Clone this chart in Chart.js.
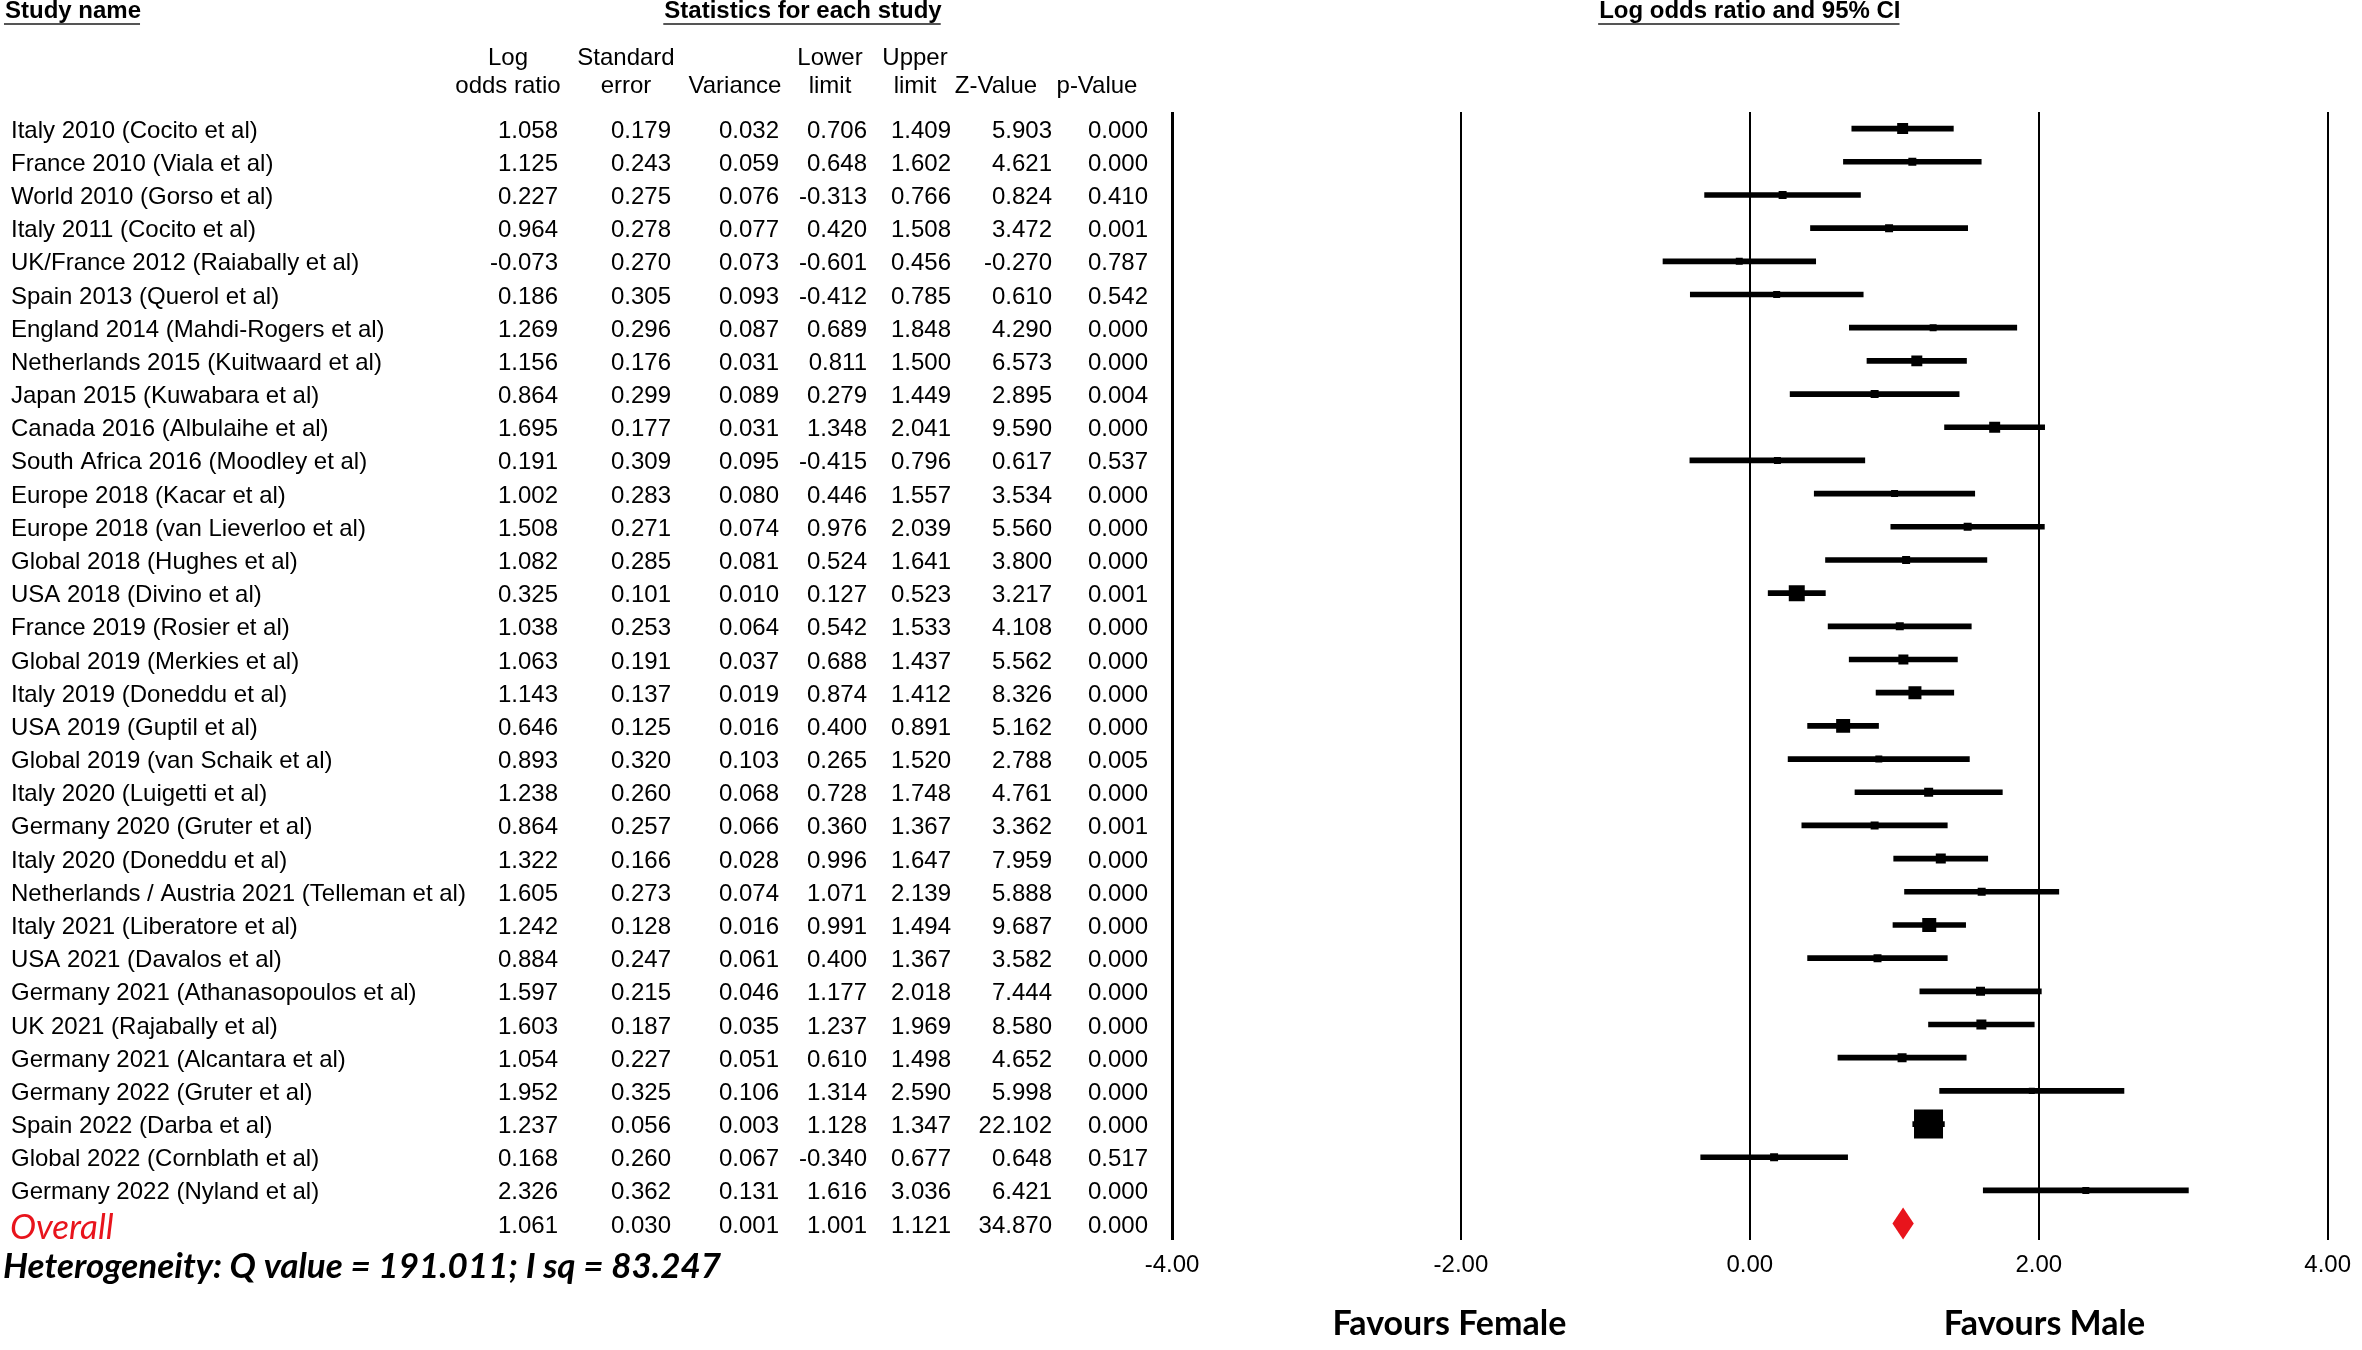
<!DOCTYPE html>
<html>
<head>
<meta charset="utf-8">
<title>Forest plot</title>
<script src="https://cdn.jsdelivr.net/npm/chart.js@4.4.1/dist/chart.umd.min.js"></script>
<style>
    html, body { margin: 0; padding: 0; background: #fff; }
    #wrap { width: 2362px; height: 1350px; }
</style>
</head>
<body>
<div id="wrap"><canvas id="forestChart" width="2362" height="1350"></canvas></div>
<script>
// Study data
const studyNames = [
    'Italy 2010 (Cocito et al)', 'France 2010 (Viala et al)', 'World 2010 (Gorso et al)',
    'Italy 2011 (Cocito et al)', 'UK/France 2012 (Raiabally et al)', 'Spain 2013 (Querol et al)',
    'England 2014 (Mahdi-Rogers et al)', 'Netherlands 2015 (Kuitwaard et al)', 'Japan 2015 (Kuwabara et al)',
    'Canada 2016 (Albulaihe et al)', 'South Africa 2016 (Moodley et al)', 'Europe 2018 (Kacar et al)',
    'Europe 2018 (van Lieverloo et al)', 'Global 2018 (Hughes et al)', 'USA 2018 (Divino et al)',
    'France 2019 (Rosier et al)', 'Global 2019 (Merkies et al)', 'Italy 2019 (Doneddu et al)',
    'USA 2019 (Guptil et al)', 'Global 2019 (van Schaik et al)', 'Italy 2020 (Luigetti et al)',
    'Germany 2020 (Gruter et al)', 'Italy 2020 (Doneddu et al)', 'Netherlands / Austria 2021 (Telleman et al)',
    'Italy 2021 (Liberatore et al)', 'USA 2021 (Davalos et al)', 'Germany 2021 (Athanasopoulos et al)',
    'UK 2021 (Rajabally et al)', 'Germany 2021 (Alcantara et al)', 'Germany 2022 (Gruter et al)',
    'Spain 2022 (Darba et al)', 'Global 2022 (Cornblath et al)', 'Germany 2022 (Nyland et al)'
];
const logOddsRatio = [1.058, 1.125, 0.227, 0.964, -0.073, 0.186, 1.269, 1.156, 0.864, 1.695, 0.191,
    1.002, 1.508, 1.082, 0.325, 1.038, 1.063, 1.143, 0.646, 0.893, 1.238, 0.864, 1.322, 1.605,
    1.242, 0.884, 1.597, 1.603, 1.054, 1.952, 1.237, 0.168, 2.326];
const standardError = [0.179, 0.243, 0.275, 0.278, 0.270, 0.305, 0.296, 0.176, 0.299, 0.177, 0.309,
    0.283, 0.271, 0.285, 0.101, 0.253, 0.191, 0.137, 0.125, 0.320, 0.260, 0.257, 0.166, 0.273,
    0.128, 0.247, 0.215, 0.187, 0.227, 0.325, 0.056, 0.260, 0.362];
const variance = [0.032, 0.059, 0.076, 0.077, 0.073, 0.093, 0.087, 0.031, 0.089, 0.031, 0.095,
    0.080, 0.074, 0.081, 0.010, 0.064, 0.037, 0.019, 0.016, 0.103, 0.068, 0.066, 0.028, 0.074,
    0.016, 0.061, 0.046, 0.035, 0.051, 0.106, 0.003, 0.067, 0.131];
const lowerLimit = [0.706, 0.648, -0.313, 0.420, -0.601, -0.412, 0.689, 0.811, 0.279, 1.348, -0.415,
    0.446, 0.976, 0.524, 0.127, 0.542, 0.688, 0.874, 0.400, 0.265, 0.728, 0.360, 0.996, 1.071,
    0.991, 0.400, 1.177, 1.237, 0.610, 1.314, 1.128, -0.340, 1.616];
const upperLimit = [1.409, 1.602, 0.766, 1.508, 0.456, 0.785, 1.848, 1.500, 1.449, 2.041, 0.796,
    1.557, 2.039, 1.641, 0.523, 1.533, 1.437, 1.412, 0.891, 1.520, 1.748, 1.367, 1.647, 2.139,
    1.494, 1.367, 2.018, 1.969, 1.498, 2.590, 1.347, 0.677, 3.036];
const zValue = [5.903, 4.621, 0.824, 3.472, -0.270, 0.610, 4.290, 6.573, 2.895, 9.590, 0.617,
    3.534, 5.560, 3.800, 3.217, 4.108, 5.562, 8.326, 5.162, 2.788, 4.761, 3.362, 7.959, 5.888,
    9.687, 3.582, 7.444, 8.580, 4.652, 5.998, 22.102, 0.648, 6.421];
const pValue = [0.000, 0.000, 0.410, 0.001, 0.787, 0.542, 0.000, 0.000, 0.004, 0.000, 0.537,
    0.000, 0.000, 0.000, 0.001, 0.000, 0.000, 0.000, 0.000, 0.005, 0.000, 0.001, 0.000, 0.000,
    0.000, 0.000, 0.000, 0.000, 0.000, 0.000, 0.000, 0.517, 0.000];
// relative weight (%) as judged from the box areas
const studyWeight = [3.3, 1.75, 1.75, 1.75, 1.34, 1.34, 1.34, 3.3, 1.75, 3.3, 1.34,
    1.34, 1.75, 1.75, 7.0, 1.75, 2.74, 4.63, 5.37, 1.34, 2.22, 1.75, 2.74, 1.75,
    5.37, 1.75, 2.22, 2.74, 2.22, 0.99, 23.06, 1.75, 1.34];

// Overall (summary) row
const overallLabel = 'Overall';
const overallStats = [1.061, 0.030, 0.001, 1.001, 1.121, 34.870, 0.000];
const heterogeneityText = 'Heterogeneity: Q value = 191.011; I sq = 83.247';

const axisTicks = [-4, -2, 0, 2, 4];
const columnHeaders = [
    ['Log', 'odds ratio'], ['Standard', 'error'], ['', 'Variance'], ['Lower', 'limit'],
    ['Upper', 'limit'], ['', 'Z-Value'], ['', 'p-Value']
];
const sideLabels = ['Favours Female', 'Favours Male'];

const ARIAL = "'Liberation Sans', Arial, sans-serif";
const CALIBRI = "Lato, 'Open Sans', sans-serif";
const RED = '#e8141c';

const colRight = [558, 671, 779, 867, 951, 1052, 1148];
const colHeadCenter = [508, 626, 735, 830, 915, 996, 1097];

function underlinedTitle(ctx, text, cx, baseline) {
    ctx.font = 'bold 24px ' + ARIAL;
    ctx.textAlign = 'center';
    ctx.fillStyle = '#000';
    ctx.fillText(text, cx, baseline);
    const w = ctx.measureText(text).width;
    ctx.fillStyle = '#555';
    ctx.fillRect(cx - w / 2 - 1, baseline + 5, w, 2);
}

const tablePlugin = {
    id: 'tableText',
    afterDraw(chart) {
        const ctx = chart.ctx;
        const y = chart.scales.y;
        const x = chart.scales.x;
        ctx.save();
        ctx.textBaseline = 'alphabetic';

        underlinedTitle(ctx, 'Study name', 73, 18);
        underlinedTitle(ctx, 'Statistics for each study', 803, 18);
        underlinedTitle(ctx, 'Log odds ratio and 95% CI', x.getPixelForValue(0), 18);

        ctx.font = '24px ' + ARIAL;
        ctx.fillStyle = '#000';
        ctx.textAlign = 'center';
        columnHeaders.forEach((h, c) => {
            ctx.fillText(h[0], colHeadCenter[c], 65);
            ctx.fillText(h[1], colHeadCenter[c], 93);
        });

        const columns = [logOddsRatio, standardError, variance, lowerLimit, upperLimit, zValue, pValue];
        studyNames.forEach((name, i) => {
            const base = y.getPixelForValue(i) + 9;
            ctx.textAlign = 'left';
            ctx.fillText(name, 11, base);
            ctx.textAlign = 'right';
            columns.forEach((col, c) => ctx.fillText(col[i].toFixed(3), colRight[c], base));
        });

        const oBase = y.getPixelForValue(studyNames.length) + 9;
        overallStats.forEach((v, c) => ctx.fillText(v.toFixed(3), colRight[c], oBase));

        ctx.textAlign = 'left';
        ctx.fillStyle = RED;
        ctx.font = 'italic 35px ' + CALIBRI;
        ctx.fillText(overallLabel, 10, oBase + 6);

        ctx.fillStyle = '#000';
        ctx.font = 'italic bold 35px ' + CALIBRI;
        ctx.fillText(heterogeneityText, 3, 1278);

        ctx.font = 'bold 34px ' + CALIBRI;
        ctx.textAlign = 'center';
        ctx.fillText(sideLabels[0], x.getPixelForValue(-2.08), 1335);
        ctx.fillText(sideLabels[1], x.getPixelForValue(2.04), 1335);
        ctx.restore();
    }
};

const diamondPlugin = {
    id: 'summaryDiamond',
    afterDatasetsDraw(chart) {
        const ctx = chart.ctx;
        const x = chart.scales.x;
        const yc = chart.scales.y.getPixelForValue(studyNames.length);
        const xl = x.getPixelForValue(overallStats[3]);
        const xm = x.getPixelForValue(overallStats[0]);
        const xr = x.getPixelForValue(overallStats[4]);
        ctx.save();
        ctx.fillStyle = RED;
        ctx.beginPath();
        ctx.moveTo(xl - 2, yc);
        ctx.lineTo(xm, yc - 16);
        ctx.lineTo(xr + 2, yc);
        ctx.lineTo(xm, yc + 16);
        ctx.closePath();
        ctx.fill();
        ctx.restore();
    }
};

const ciData = studyNames.map((n, i) => ({ y: i, x: [lowerLimit[i], upperLimit[i]] }));
const pointData = studyNames.map((n, i) => ({ x: logOddsRatio[i], y: i }));

new Chart(document.getElementById('forestChart'), {
    type: 'scatter',
    data: {
        datasets: [
            {
                type: 'bar',
                indexAxis: 'y',
                data: ciData,
                backgroundColor: '#000',
                borderWidth: 0,
                barThickness: 5,
                order: 2
            },
            {
                type: 'scatter',
                data: pointData,
                pointStyle: 'rect',
                // box area proportional to weight
                pointRadius: c => 6.04 * Math.sqrt(studyWeight[c.dataIndex]) / Math.SQRT2,
                backgroundColor: '#000',
                borderWidth: 0,
                order: 1
            }
        ]
    },
    options: {
        responsive: false,
        animation: false,
        devicePixelRatio: 1,
        layout: { padding: { left: 1172, right: 29, top: 112, bottom: 59 } },
        plugins: { legend: { display: false }, tooltip: { enabled: false } },
        scales: {
            x: {
                type: 'linear',
                min: -4,
                max: 4,
                offset: false,
                afterBuildTicks: s => { s.ticks = axisTicks.map(v => ({ value: v })); },
                ticks: {
                    callback: v => v.toFixed(2),
                    color: '#000',
                    font: { family: ARIAL, size: 24 },
                    padding: 11,
                    maxRotation: 0
                },
                grid: {
                    color: '#000',
                    lineWidth: c => (c.tick && c.tick.value === -4 ? 3 : 2),
                    drawTicks: false,
                    offset: false
                },
                border: { display: false }
            },
            y: {
                type: 'linear',
                min: -0.5,
                max: 33.5,
                reverse: true,
                offset: false,
                grid: { offset: false },
                display: false
            }
        }
    },
    plugins: [tablePlugin, diamondPlugin]
});
</script>
</body>
</html>
